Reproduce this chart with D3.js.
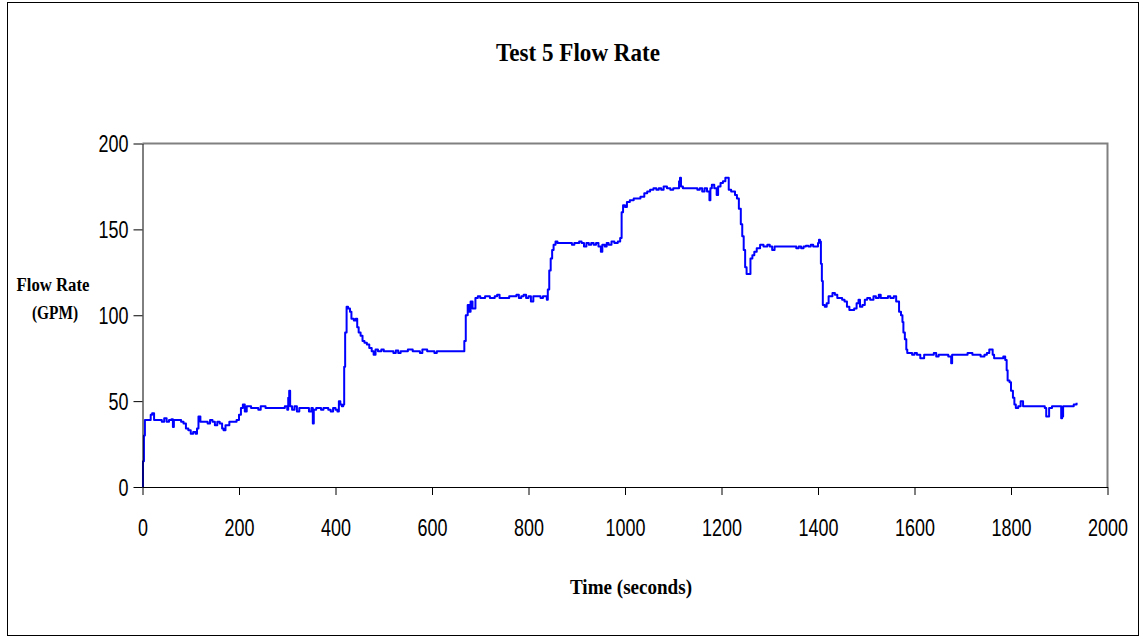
<!DOCTYPE html>
<html><head><meta charset="utf-8">
<script src="https://cdn.jsdelivr.net/npm/d3@7"></script>
<style>body{margin:0;background:#fff}svg{display:block}</style>
</head><body>
<svg id="c" width="1140" height="636"></svg>
<script>
const title = "Test 5 Flow Rate";
const xTitle = "Time (seconds)";
const yTitleLines = ["Flow Rate", "(GPM)"];
const xTicks = [0,200,400,600,800,1000,1200,1400,1600,1800,2000];
const yTicks = [0,50,100,150,200];
const timeSec = [0,1,3,5,12,17,20,24,35,40,45,50,55,60,63,65,75,80,85,90,95,100,105,110,113,116,120,130,135,140,145,150,155,160,165,168,172,180,190,195,200,204,208,212,216,225,235,240,245,255,265,275,285,295,300,302,304,306,310,315,320,325,330,340,345,350,353,355,360,370,375,385,390,395,400,404,407,410,413,416,
418,420,423,426,430,433,438,442,445,448,452,456,460,465,470,475,479,483,488,495,500,510,520,525,530,535,545,550,560,570,575,580,590,600,605,610,620,630,640,650,660,664,
667,670,674,677,680,684,690,695,700,710,720,730,735,740,750,760,770,775,780,785,790,795,800,805,810,820,825,830,838,840,843,
846,849,852,856,860,870,880,890,895,900,905,910,915,920,925,930,935,940,945,950,953,958,962,966,972,978,985,990,
993,996,1000,1004,1010,1018,1025,1032,1040,1046,1052,1059,1065,1070,1075,1080,1087,1094,1100,1108,1112,1114,1116,1120,1130,1140,1150,1155,1160,1165,1170,1175,1177,1180,1185,1190,1193,1198,1203,1208,1212,1215,1220,1228,1232,1236,1240,1243,1246,1249,1252,1257,
1260,1264,1268,1273,1280,1287,1295,1300,1305,1310,1320,1330,1340,1350,1355,1360,1365,1370,1375,1380,1385,1390,1395,1400,1402,1404,1406,1408,1410,1414,1418,1422,1426,1430,1435,1440,1445,1450,1455,1460,1465,1470,1475,1480,1484,1487,1492,1497,1502,1508,1515,1520,1526,1530,1540,1545,1550,1557,1562,1566,1568,1572,1575,1577,1580,1583,1585,
1590,1595,1600,1605,1612,1620,1630,1640,1645,1650,1660,1670,1676,1678,1690,1700,1710,1720,1730,1737,1745,1750,1755,1758,1762,1765,1770,1780,1784,1788,1791,1793,1797,1800,1804,1807,1810,1815,1820,1825,1830,1840,1850,1860,1870,1873,1876,1879,1885,1895,1902,1904,1906,1908,1915,1925,1930,1936];
const flowGpm = [0,15,30,39,39,42,43,39,39,38,40,38,39,39.5,35,39,39,38,37,34,33,31,32,31,34,41,38,38,37,39,38,36,38,37,34,33,36,38,38,39,42,46,48,44,47,46,46,45,47,46,46,46,46,47,45,52,56,47,45,47,44,46,46,46,44,46,37,45,46,45,46,45,44,46,45,44,50,48,47,48,
70,90,105,104,102,98,97,98,93,90,88,85,84,83,81,79,77,80,79,80,79,79,78,79.5,78,79,79,80,79,79,78,80,79,79,78,79,79,79,79,79,79,79,
85,100,106,102,108,104,110,111,110,111,110,111,112,110,110,111,111,112,110,111,112,110,111,108,111,111,110,111,109,115,126,
133,138,141,143,142,142,142,141,142,142,143,142,140,142,141,142,141,142,140,137,141,140,142,141,143,142,143,145,
160,164,163,166,167,168,168,169,171,172,173,174,173,174,173,175,174,173,174,174,178,180,175,174,174,174,173,174,172,174,172,167,174,176,174,170,175,177,178,180,180,173,172,170,168,162,153,146,138,128,124,124,
133,135,137,139,141,140,141,140,138,140,140,140,140,140,139,140,139,140,140.5,140,141,140,140,142,144,143,130,120,106,105,107,111,111,113,112,110,110,109,108,105,103,103,104,107,109,105,106,109,110,109,111,110,112,110,110,111,110,111,108,108,102,100,96,90,86,80,78,
78,77,78,77,75,77,77,78,76,77,77,76,72,77,77,77,78,77,77,76,77,78,80,80,77,75,75,75,76,74,68,62,61,56,52,48,46,47,50,47,47,47,47,47,46,41,41,46,47,47,47,40,41,47,47,47,48,49];

const svg = d3.select("#c");
const m = {left:142.5, right:1107.5, top:143.5, bottom:487};
const x = d3.scaleLinear().domain([0,2000]).range([m.left, m.right]);
const y = d3.scaleLinear().domain([0,200]).range([m.bottom, m.top]);

// outer border
svg.append("rect").attr("x",7.5).attr("y",2.5).attr("width",1131).attr("height",633)
  .attr("fill","none").attr("stroke","#000").attr("stroke-width",1);

// plot frame (gray top/right)
svg.append("path").attr("d",`M${m.left},${m.top}H${m.right}V${m.bottom}`)
  .attr("fill","none").attr("stroke","#808080").attr("stroke-width",2);

// data line
const pts = timeSec.map((t,i)=>[t, flowGpm[i]]);
svg.append("path").datum(pts)
  .attr("fill","none").attr("stroke","#0000ff").attr("stroke-width",2)
  .attr("stroke-linejoin","round")
  .attr("d", d3.line().x(d=>x(d[0])).y(d=>y(d[1])).curve(d3.curveStepAfter));

function squeeze(sel, f){
  sel.each(function(){ const w=this.getComputedTextLength(); this.setAttribute("textLength", w*f); this.setAttribute("lengthAdjust","spacingAndGlyphs"); });
}

const ya = svg.append("g").attr("transform",`translate(${m.left},0)`)
  .call(d3.axisLeft(y).tickValues(yTicks).tickFormat(d3.format("d")).tickSize(9).tickPadding(5).tickSizeOuter(0));
ya.select(".domain").attr("stroke","#000");
ya.selectAll("text").attr("font-family","'Liberation Sans', Arial, sans-serif").attr("font-size",23).attr("fill","#000").attr("dy","0.35em");
squeeze(ya.selectAll("text"), 0.78);

const xa = svg.append("g").attr("transform",`translate(0,${m.bottom})`)
  .call(d3.axisBottom(x).tickValues(xTicks).tickFormat(d3.format("d")).tickSize(8).tickPadding(25).tickSizeOuter(0));
xa.select(".domain").attr("stroke","#000");
xa.selectAll("text").attr("font-family","'Liberation Sans', Arial, sans-serif").attr("font-size",23).attr("fill","#000").attr("dy","0.71em");
squeeze(xa.selectAll("text"), 0.78);

const serif = "'Liberation Serif', 'Times New Roman', serif";
svg.append("text").attr("x",578).attr("y",61).attr("text-anchor","middle")
  .attr("font-family",serif).attr("font-weight","bold").attr("font-size",25)
  .attr("textLength",164).attr("lengthAdjust","spacingAndGlyphs").text(title);

svg.append("text").attr("x",631).attr("y",594).attr("text-anchor","middle")
  .attr("font-family",serif).attr("font-weight","bold").attr("font-size",21)
  .attr("textLength",122).attr("lengthAdjust","spacingAndGlyphs").text(xTitle);

svg.append("text").attr("x",53).attr("y",291).attr("text-anchor","middle")
  .attr("font-family",serif).attr("font-weight","bold").attr("font-size",18)
  .attr("textLength",73).attr("lengthAdjust","spacingAndGlyphs").text(yTitleLines[0]);
svg.append("text").attr("x",55).attr("y",319).attr("text-anchor","middle")
  .attr("font-family",serif).attr("font-weight","bold").attr("font-size",18)
  .attr("textLength",46).attr("lengthAdjust","spacingAndGlyphs").text(yTitleLines[1]);
</script>
</body></html>
